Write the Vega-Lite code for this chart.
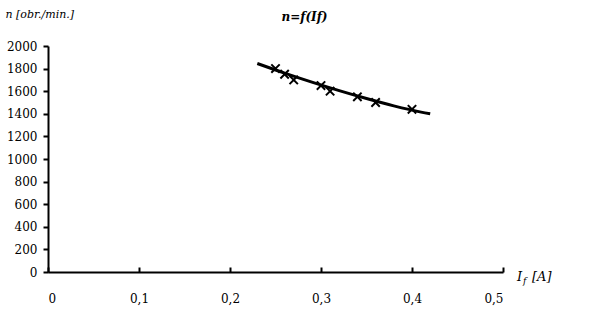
{
  "$schema": "https://vega.github.io/schema/vega-lite/v6.json",
  "width": 455,
  "height": 226,
  "autosize": "none",
  "padding": {"left": 48, "top": 46, "right": 97, "bottom": 46},
  "background": "white",
  "config": {
    "view": {"stroke": null},
    "font": "DejaVu Serif",
    "axis": {"grid": false, "domainColor": "black", "tickColor": "black", "labelColor": "black", "titleColor": "black", "labelFont": "DejaVu Serif", "titleFont": "DejaVu Serif", "labelFontSize": 12, "domainWidth": 2, "tickWidth": 2, "labelOverlap": false}
  },
  "title": {"text": "n=f(If)", "font": "DejaVu Serif", "fontSize": 12, "fontWeight": "bold", "fontStyle": "italic", "color": "black", "dx": 29, "offset": -16},
  "datasets": {
    "points": [
      {"If": 0.25, "n": 1800},
      {"If": 0.26, "n": 1750},
      {"If": 0.27, "n": 1700},
      {"If": 0.30, "n": 1650},
      {"If": 0.31, "n": 1600},
      {"If": 0.34, "n": 1550},
      {"If": 0.36, "n": 1500},
      {"If": 0.40, "n": 1440}
    ],
    "trend": [
      {"If": 0.23, "n": 1845},
      {"If": 0.26, "n": 1760},
      {"If": 0.29, "n": 1680},
      {"If": 0.32, "n": 1605},
      {"If": 0.35, "n": 1535},
      {"If": 0.38, "n": 1470},
      {"If": 0.41, "n": 1415},
      {"If": 0.42, "n": 1400}
    ],
    "xlabel": [{"If": 0.5, "n": 0}]
  },
  "encoding": {
    "x": {"field": "If", "type": "quantitative", "scale": {"domain": [0, 0.5], "nice": false},
      "axis": {"tickCount": 6, "labelExpr": "datum.value == 0 ? '0' : replace(format(datum.value, '.1f'), '.', ',')", "title": null, "tickSize": -5, "labelPadding": 26, "labelOverlap": false}},
    "y": {"field": "n", "type": "quantitative", "scale": {"domain": [0, 2000], "nice": false},
      "axis": {"tickCount": 11, "format": "d", "labelOverlap": false, "title": "n [obr./min.]", "titleAngle": 0, "titleAlign": "left", "titleBaseline": "middle", "titleX": -43, "titleY": -32, "titleFontSize": 11, "titleFontStyle": "italic", "titleFontWeight": "normal", "tickSize": 5, "labelPadding": 6}}
  },
  "layer": [
    {
      "data": {"name": "trend"},
      "mark": {"type": "line", "color": "black", "strokeWidth": 3, "interpolate": "monotone"}
    },
    {
      "data": {"name": "points"},
      "mark": {"type": "point", "shape": "M-1,-1L1,1M-1,1L1,-1", "color": "black", "filled": false, "opacity": 1, "strokeWidth": 2, "size": 70}
    },
    {
      "data": {"name": "xlabel"},
      "mark": {"type": "text", "text": "I", "font": "DejaVu Serif", "fontSize": 13, "fontStyle": "italic", "align": "left", "baseline": "middle", "dx": 14, "dy": 5, "color": "black"}
    },
    {
      "data": {"name": "xlabel"},
      "mark": {"type": "text", "text": "f", "font": "DejaVu Serif", "fontSize": 9, "fontStyle": "italic", "align": "left", "baseline": "middle", "dx": 20, "dy": 9, "color": "black"}
    },
    {
      "data": {"name": "xlabel"},
      "mark": {"type": "text", "text": "[A]", "font": "DejaVu Serif", "fontSize": 13, "fontStyle": "italic", "align": "left", "baseline": "middle", "dx": 29, "dy": 5, "color": "black"}
    }
  ]
}
